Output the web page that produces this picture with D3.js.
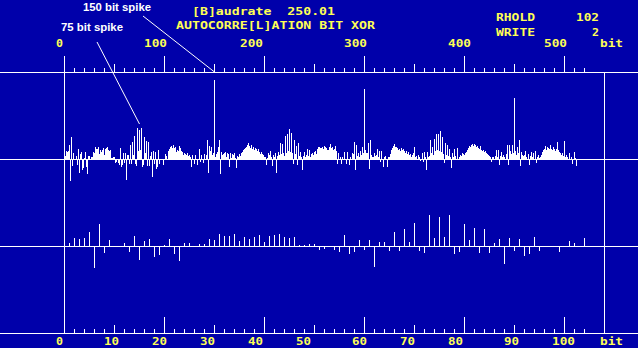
<!DOCTYPE html>
<html><head><meta charset="utf-8">
<script src="https://cdn.jsdelivr.net/npm/d3@7"></script>
<style>html,body{margin:0;padding:0;background:#0000aa;overflow:hidden}</style>
</head><body>
<script>
// ---------- data ----------
// autocorrelation (bit XOR), one value per lag in bits; lags 0..104 are also the zoomed middle trace
const lagValuesShort = [
 0,3,8,7,8,14,-21,22,-6,6,
 0,0,3,-5,10,-13,5,7,-10,-8,
 1,7,-7,-14,3,3,0,2,2,7,
 6,12,10,10,12,5,9,7,9,11,
 4,10,11,12,9,8,9,1,1,2,
 2,-3,-2,0,-3,-5,11,-7,-5,6,
 -3,6,-20,4,4,-4,14,-4,17,4,
 23,-4,-6,31,8,29,9,31,-7,-5,
 22,6,18,-6,17,-6,3,7,-17,8,
 -4,7,-9,-7,9,-4,0,0,0,-5,
 0,5,3,0,8];
// lags 105..512
const lagValuesLong = [
 10,12,13,11,14,11,12,7,9,8,
 13,11,8,7,4,6,5,4,6,3,
 4,2,-7,4,0,-4,4,0,-5,0,
 10,-2,4,0,-3,5,0,4,19,-13,
 13,8,12,4,6,79,2,5,7,12,
 19,-14,7,4,5,6,7,2,6,5,
 -7,6,1,5,4,6,1,-8,3,2,
 5,3,6,7,9,10,11,12,14,16,
 13,11,14,10,12,9,11,10,8,10,
 7,5,7,5,4,2,2,-5,1,6,
 4,8,2,-6,4,2,6,-13,3,7,
 4,16,5,15,6,3,23,6,25,8,
 30,7,26,6,-4,19,5,13,-5,16,
 3,7,2,-10,3,7,2,4,10,3,
 9,2,5,6,4,7,8,5,10,12,
 12,11,11,12,10,13,12,11,9,9,
 12,15,11,12,9,10,13,8,-4,6,
 0,2,-4,2,0,7,0,-4,7,0,
 -5,2,0,6,5,17,-10,14,3,6,
 2,8,4,12,6,70,9,6,6,16,
 -9,19,4,2,2,6,3,4,10,2,
 8,-2,8,0,-7,2,3,0,-7,2,
 2,5,9,11,13,15,12,12,11,9,
 10,8,11,9,10,8,6,8,5,7,
 4,5,2,4,6,12,2,3,0,4,
 2,-1,0,6,-2,7,2,-10,7,2,
 3,19,6,12,4,20,8,25,9,25,
 8,28,7,22,5,-3,16,4,14,3,
 10,2,-8,6,2,10,3,0,11,0,
 2,4,3,6,5,4,6,7,9,11,
 13,12,14,15,13,15,14,12,13,11,
 10,13,9,8,9,7,8,6,5,4,
 3,2,-2,2,2,0,3,9,2,9,
 -5,3,7,2,4,2,0,5,14,-5,
 14,8,5,14,6,61,8,4,12,6,
 19,-6,7,4,3,4,8,2,0,5,
 -5,3,7,2,6,0,8,-3,2,4,
 1,2,4,7,9,10,13,9,12,11,
 10,14,10,9,12,10,8,10,17,9,
 7,6,4,6,3,18,2,4,2,0,
 6,0,2,-4,0,7,1,-6];
const lagValues = lagValuesShort.concat(lagValuesLong);

const topTicks = d3.range(0, 521, 10);
const topTickLabels = [0, 100, 200, 300, 400, 500];
const bottomTicks = d3.range(0, 105, 2);
const bottomTickLabels = [0, 10, 20, 30, 40, 50, 60, 70, 80, 90, 100];
const unitLabel = "bit";
const titleLines = ["[B]audrate  250.01", "AUTOCORRE[L]ATION BIT XOR"];
const statusNames = ["RHOLD", "WRITE"];
const statusValues = ["102", "2"];
const annotationTexts = ["150 bit spike", "75 bit spike"];
const annotationLags = [150, 75];

// ---------- drawing ----------
const W = 638, H = 348;
const BLUE = "#0000aa", YELLOW = "#ffff55", WHITE = "#ffffff";

const svg = d3.select("body").append("svg").attr("width", W).attr("height", H)
  .style("display", "block");
svg.append("rect").attr("width", W).attr("height", H).attr("fill", BLUE);

const xTop = d3.scaleLinear().domain([0, 520]).range([64, 584]);
const xBot = d3.scaleLinear().domain([0, 104]).range([64, 584]);
const yTop = d3.scaleLinear().domain([0, 100]).range([159, 59]);
const yMid = d3.scaleLinear().domain([0, 100]).range([246, 146]);

function drawBars(data, x, y) {
  const g = svg.append("g").attr("shape-rendering", "crispEdges");
  g.selectAll("rect")
    .data(data.map((v, i) => ({ i, v })).filter(d => d.v !== 0))
    .join("rect")
    .attr("x", d => x(d.i))
    .attr("width", 1)
    .attr("y", d => d.v > 0 ? y(d.v) : y(0))
    .attr("height", d => Math.abs(y(d.v) - y(0)) + 1)
    .attr("fill", WHITE);
}
drawBars(lagValues, xTop, yTop);
drawBars(lagValuesShort, xBot, yMid);

// horizontal rules
const lines = svg.append("g").attr("stroke", WHITE).attr("stroke-width", 1)
  .attr("shape-rendering", "crispEdges");
[72, yTop(0), yMid(0), 333].forEach(yy => {
  lines.append("line").attr("x1", 0).attr("x2", W).attr("y1", yy + 0.5).attr("y2", yy + 0.5);
});
lines.append("line").attr("x1", xTop(0) + 0.5).attr("x2", xTop(0) + 0.5).attr("y1", 56).attr("y2", 334);
lines.append("line").attr("x1", 604.5).attr("x2", 604.5).attr("y1", 72).attr("y2", 334);

// axes
function drawAxis(scale, ticks, yy, sizeFn) {
  const ax = d3.axisTop(scale).tickValues(ticks).tickFormat("").tickSizeOuter(0).tickSizeInner(4);
  const g = svg.append("g").attr("transform", `translate(0,${yy})`).attr("shape-rendering", "crispEdges").call(ax);
  g.select(".domain").remove();
  g.selectAll(".tick line").attr("stroke", WHITE).attr("y2", d => -sizeFn(d));
}
drawAxis(xTop, topTicks, 72, d => d % 100 === 0 ? 16 : d % 50 === 0 ? 8 : 4);
drawAxis(xBot, bottomTicks, 333, d => d % 20 === 0 ? 16 : d % 10 === 0 ? 8 : 4);

// text-mode (8px cell) labels
function cellText(str, left, baseline, fill) {
  svg.append("text")
    .attr("x", left).attr("y", baseline)
    .attr("textLength", str.length * 8 - 1)
    .attr("lengthAdjust", "spacingAndGlyphs")
    .attr("font-family", "DejaVu Sans Mono, monospace")
    .attr("font-weight", "bold")
    .attr("font-size", 10.5)
    .attr("fill", fill)
    .text(str.replace(/ /g, "\u00a0"));
}
// text cells are quantised to an 8px grid like the original text-mode screen
function roundHalfEven(v) {
  const f = Math.floor(v), d = v - f;
  if (d > 0.5) return f + 1;
  if (d < 0.5) return f;
  return f % 2 === 0 ? f : f + 1;
}
function topCellLeft(px, len) { return 8 * (Math.ceil(px / 8) - len); }
function bottomCellLeft(px, len) { return 8 * (roundHalfEven((px - 6) / 8) - Math.floor(len / 2)); }

topTickLabels.forEach(v => { const s = String(v); cellText(s, topCellLeft(xTop(v), s.length), 47, YELLOW); });
bottomTickLabels.forEach(v => { const s = String(v); cellText(s, bottomCellLeft(xBot(v), s.length), 345, YELLOW); });
cellText(unitLabel, 600, 47, YELLOW);
cellText(unitLabel, 600, 345, YELLOW);

cellText(titleLines[0], 192, 15, YELLOW);
cellText(titleLines[1], 176, 29, YELLOW);
cellText(statusNames[0], 496, 21, YELLOW);
cellText(statusNames[1], 496, 36, YELLOW);
statusValues.forEach((s, i) => cellText(s, 600 - 8 * s.length, i === 0 ? 21 : 36, YELLOW));

// annotations
const annPos = [
  { x: 83, y: 11, w: 68, sx: 143, sy: 16, ex: xTop(annotationLags[0]) + 0.5, ey: 72 },
  { x: 61, y: 31, w: 62, sx: 97, sy: 42, ex: xTop(annotationLags[1]) + 0.5, ey: yTop(lagValues[annotationLags[1]]) - 6 }
];
annotationTexts.forEach((t, i) => {
  const p = annPos[i];
  svg.append("text").attr("x", p.x).attr("y", p.y)
    .attr("textLength", p.w).attr("lengthAdjust", "spacingAndGlyphs")
    .attr("font-family", "Liberation Sans, Arial, sans-serif")
    .attr("font-weight", "bold").attr("font-size", 11.5)
    .attr("fill", WHITE).text(t);
  svg.append("line").attr("x1", p.sx).attr("y1", p.sy).attr("x2", p.ex).attr("y2", p.ey)
    .attr("stroke", WHITE).attr("stroke-width", 1);
});
</script>
</body></html>
